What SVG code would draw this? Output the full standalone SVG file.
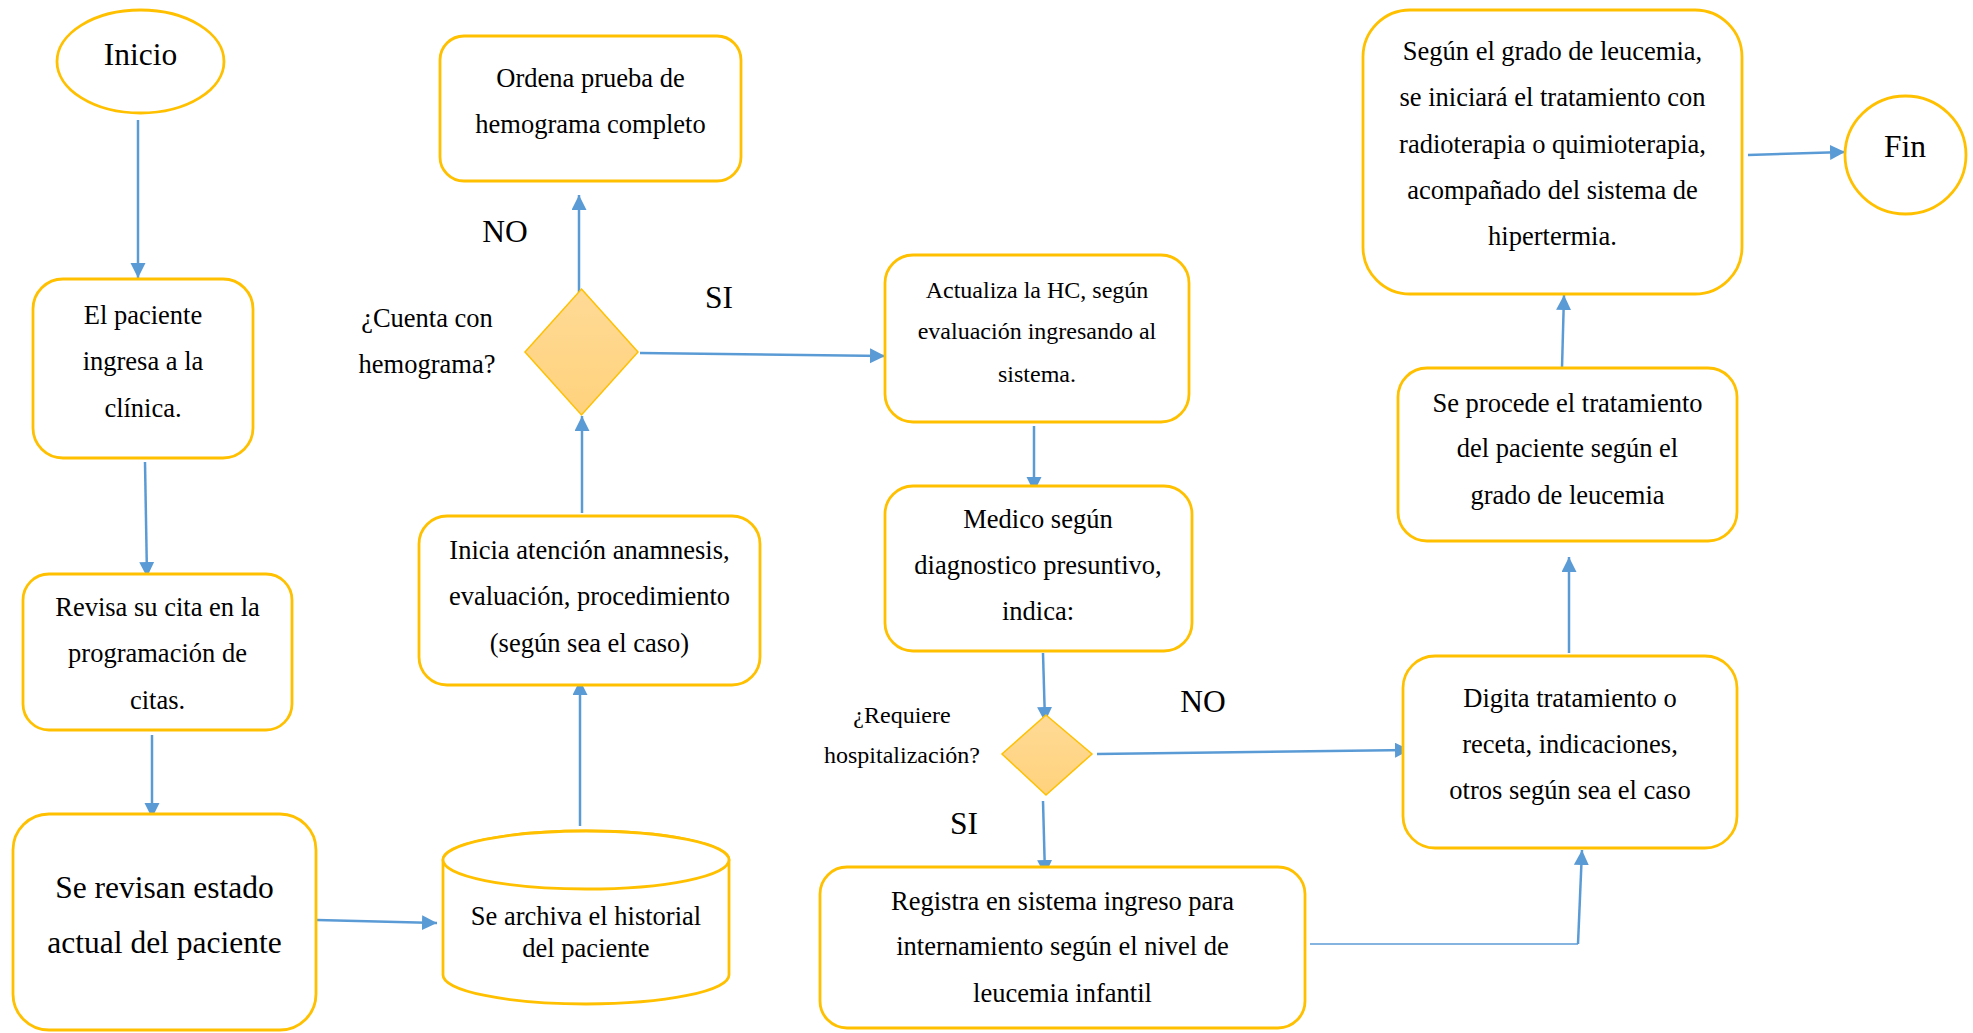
<svg xmlns="http://www.w3.org/2000/svg" width="1973" height="1033" viewBox="0 0 1973 1033">
<style>
.n{fill:#FFFFFF;stroke:#FFC000;stroke-width:2.8}
.d{fill:url(#dg);stroke:#FFC000;stroke-width:1.5}
.t{font-family:"Liberation Serif","Times New Roman",serif;font-size:26.5px;fill:#000;text-anchor:middle}
.s{font-size:24px}
.b{font-size:31.5px}
.c{fill:none;stroke:#5B9BD5;stroke-width:2.5}
.th{stroke-width:1.6}
</style>
<defs>
<linearGradient id="dg" x1="0" y1="0" x2="0" y2="1">
<stop offset="0" stop-color="#FFDA96"/>
<stop offset="1" stop-color="#FFD27C"/>
</linearGradient>
<marker id="ah" markerUnits="userSpaceOnUse" markerWidth="16" markerHeight="16" refX="15" refY="7.5" orient="auto">
<path d="M0,0 L15,7.5 L0,15 Z" fill="#5B9BD5"/>
</marker>
</defs>
<rect width="1973" height="1033" fill="#FFFFFF"/>

<g id="connectors">
<line class="c" x1="138" y1="120" x2="138" y2="278" marker-end="url(#ah)"/>
<line class="c" x1="145" y1="462" x2="147" y2="577" marker-end="url(#ah)"/>
<line class="c" x1="152" y1="735" x2="152" y2="818" marker-end="url(#ah)"/>
<line class="c" x1="317" y1="920" x2="437" y2="923" marker-end="url(#ah)"/>
<line class="c" x1="580" y1="826" x2="580" y2="680" marker-end="url(#ah)"/>
<line class="c" x1="582" y1="513" x2="582" y2="416" marker-end="url(#ah)"/>
<line class="c" x1="579" y1="293" x2="579" y2="195" marker-end="url(#ah)"/>
<line class="c" x1="640" y1="353" x2="885" y2="356" marker-end="url(#ah)"/>
<line class="c" x1="1034" y1="426" x2="1034" y2="492" marker-end="url(#ah)"/>
<line class="c" x1="1043" y1="653" x2="1045" y2="722" marker-end="url(#ah)"/>
<line class="c" x1="1097" y1="754" x2="1410" y2="750" marker-end="url(#ah)"/>
<line class="c" x1="1043" y1="801" x2="1045" y2="875" marker-end="url(#ah)"/>
<polyline class="c th" points="1310,944 1578,944"/>
<line class="c" x1="1578" y1="944" x2="1582" y2="850" marker-end="url(#ah)"/>
<line class="c" x1="1569" y1="653" x2="1569" y2="557" marker-end="url(#ah)"/>
<line class="c" x1="1562" y1="368" x2="1564" y2="295" marker-end="url(#ah)"/>
<line class="c" x1="1748" y1="155" x2="1845" y2="152" marker-end="url(#ah)"/>
</g>

<g id="inicio">
<ellipse class="n" cx="140.5" cy="61.5" rx="83.5" ry="51.5"/>
<text class="t b" x="140.5" y="65">Inicio</text>
</g>

<g id="ingresa">
<rect class="n" x="33" y="279" width="220" height="179" rx="30"/>
<text class="t" x="143" y="324">El paciente</text>
<text class="t" x="143" y="370">ingresa a la</text>
<text class="t" x="143" y="417">clínica.</text>
</g>

<g id="revisa-cita">
<rect class="n" x="23" y="574" width="269" height="156" rx="26"/>
<text class="t" x="157.5" y="616">Revisa su cita en la</text>
<text class="t" x="157.5" y="662">programación de</text>
<text class="t" x="157.5" y="709">citas.</text>
</g>

<g id="estado">
<rect class="n" x="13" y="814" width="303" height="216" rx="36"/>
<text class="t b" x="164.5" y="898">Se revisan estado</text>
<text class="t b" x="164.5" y="953">actual del paciente</text>
</g>

<g id="archiva">
<path class="n" d="M443,860 L443,975 A143,29 0 0 0 729,975 L729,860 A143,29 0 0 0 443,860 Z"/>
<ellipse class="n" cx="586" cy="860" rx="143" ry="29"/>
<text class="t" x="586" y="925">Se archiva el historial</text>
<text class="t" x="586" y="957">del paciente</text>
</g>

<g id="anamnesis">
<rect class="n" x="419" y="516" width="341" height="169" rx="28"/>
<text class="t" x="589.5" y="559">Inicia atención anamnesis,</text>
<text class="t" x="589.5" y="605">evaluación, procedimiento</text>
<text class="t" x="589.5" y="652">(según sea el caso)</text>
</g>

<g id="decision-hemograma">
<polygon class="d" points="581.5,289 638,352 581.5,415 525,352"/>
<text class="t" x="427" y="327">¿Cuenta con</text>
<text class="t" x="427" y="373">hemograma?</text>
<text class="t b" x="505" y="242">NO</text>
<text class="t b" x="719" y="308">SI</text>
</g>

<g id="ordena">
<rect class="n" x="440" y="36" width="301" height="145" rx="24"/>
<text class="t" x="590.5" y="87">Ordena prueba de</text>
<text class="t" x="590.5" y="133">hemograma completo</text>
</g>

<g id="actualiza">
<rect class="n" x="885" y="255" width="304" height="167" rx="28"/>
<text class="t s" x="1037" y="298">Actualiza la HC, según</text>
<text class="t s" x="1037" y="339">evaluación ingresando al</text>
<text class="t s" x="1037" y="382">sistema.</text>
</g>

<g id="medico">
<rect class="n" x="885" y="486" width="307" height="165" rx="28"/>
<text class="t" x="1038" y="528">Medico según</text>
<text class="t" x="1038" y="574">diagnostico presuntivo,</text>
<text class="t" x="1038" y="620">indica:</text>
</g>

<g id="decision-hospitalizacion">
<polygon class="d" points="1046,715 1092,754 1046,795 1002,754"/>
<text class="t s" x="902" y="723">¿Requiere</text>
<text class="t s" x="902" y="763">hospitalización?</text>
<text class="t b" x="1203" y="712">NO</text>
<text class="t b" x="964" y="834">SI</text>
</g>

<g id="registra">
<rect class="n" x="820" y="867" width="485" height="161" rx="27"/>
<text class="t" x="1062.5" y="910">Registra en sistema ingreso para</text>
<text class="t" x="1062.5" y="955">internamiento según el nivel de</text>
<text class="t" x="1062.5" y="1002">leucemia infantil</text>
</g>

<g id="digita">
<rect class="n" x="1403" y="656" width="334" height="192" rx="32"/>
<text class="t" x="1570" y="707">Digita tratamiento o</text>
<text class="t" x="1570" y="753">receta, indicaciones,</text>
<text class="t" x="1570" y="799">otros según sea el caso</text>
</g>

<g id="procede">
<rect class="n" x="1398" y="368" width="339" height="173" rx="29"/>
<text class="t" x="1567.5" y="412">Se procede el tratamiento</text>
<text class="t" x="1567.5" y="457">del paciente según el</text>
<text class="t" x="1567.5" y="504">grado de leucemia</text>
</g>

<g id="tratamiento">
<rect class="n" x="1363" y="10" width="379" height="284" rx="47"/>
<text class="t" x="1552.5" y="60">Según el grado de leucemia,</text>
<text class="t" x="1552.5" y="106">se iniciará el tratamiento con</text>
<text class="t" x="1552.5" y="153">radioterapia o quimioterapia,</text>
<text class="t" x="1552.5" y="199">acompañado del sistema de</text>
<text class="t" x="1552.5" y="245">hipertermia.</text>
</g>

<g id="fin">
<ellipse class="n" cx="1905.5" cy="155" rx="60.5" ry="59"/>
<text class="t b" x="1905" y="157">Fin</text>
</g>
</svg>
